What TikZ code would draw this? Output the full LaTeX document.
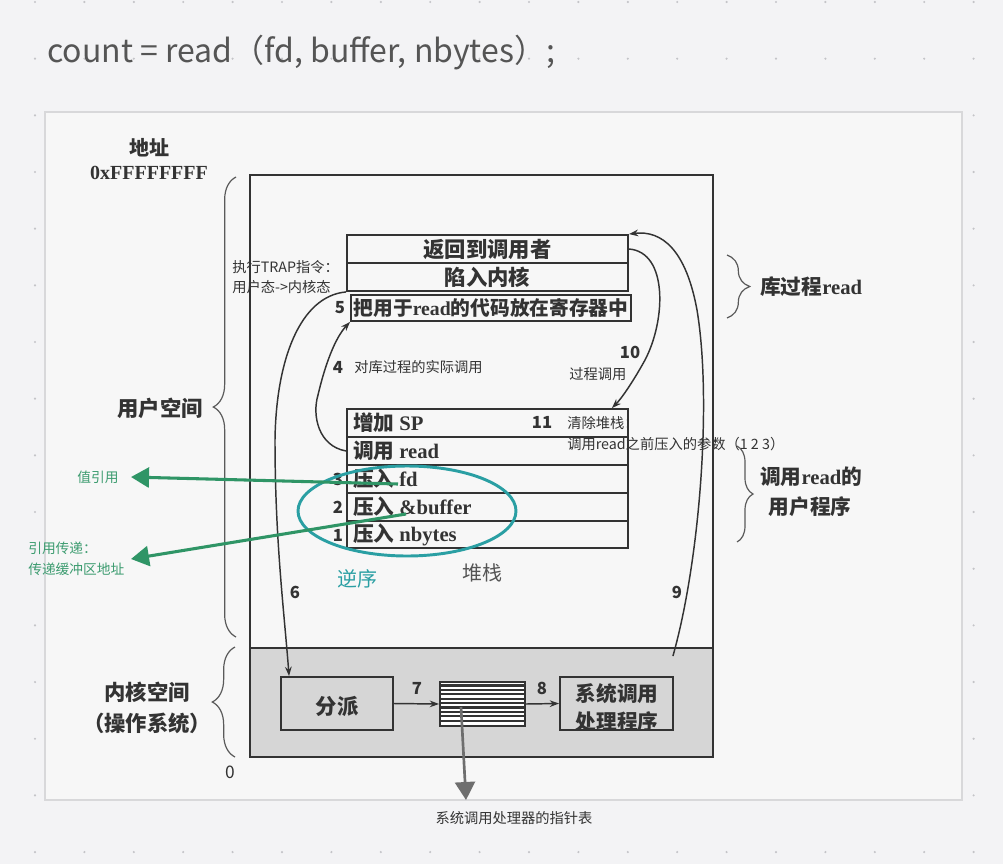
\documentclass[tikz,border=0pt]{standalone}
\usepackage{fontspec}
\setmainfont{Liberation Serif}
\newfontfamily\cjk{Noto Sans CJK SC}
\usetikzlibrary{arrows.meta,decorations.pathreplacing,calc,shapes.geometric}
\definecolor{pagebg}{HTML}{F3F3F5}
\definecolor{dotc}{HTML}{C4C4C8}
\definecolor{scanbg}{HTML}{F7F7F7}
\definecolor{scanborder}{HTML}{D8D8DA}
\definecolor{ink}{HTML}{333333}
\definecolor{braceink}{HTML}{5A5A5A}
\definecolor{anngray}{HTML}{333333}
\definecolor{titlegray}{HTML}{555555}
\definecolor{kgray}{HTML}{D6D6D6}
\definecolor{grn}{HTML}{2F9566}
\definecolor{grntext}{HTML}{3D9C70}
\definecolor{tealc}{HTML}{2A9FA3}
\definecolor{ptrgray}{HTML}{6E6E6E}
\tikzset{
  titletext/.style={font=\cjk\fontsize{24}{28}\selectfont, text=titlegray, inner sep=0pt},
  scantext/.style={font=\cjk\bfseries\fontsize{16}{19}\selectfont, text=ink, inner sep=0pt},
  stacktext/.style={font=\cjk\bfseries\fontsize{15.5}{18}\selectfont, text=ink, inner sep=0pt, anchor=west},
  anntext/.style={font=\cjk\fontsize{10.7}{13}\selectfont, text=anngray, inner sep=0pt},
  greentext/.style={font=\cjk\fontsize{10.3}{13}\selectfont, text=grntext, inner sep=0pt},
  numtext/.style={font=\cjk\bfseries\fontsize{12.5}{14}\selectfont, text=ink, inner sep=0pt},
  boxln/.style={draw=ink, line width=1.4pt, inner sep=0pt},
  rowbox/.style={boxln, fill=scanbg, minimum width=281*0.75pt, minimum height=28*0.75pt},
  flow/.style={draw=ink, line width=1.1pt, -{Stealth[length=7pt,width=5pt]}},
  greenarrow/.style={draw=grn, line width=2.3pt, -{Triangle[length=13.5pt,width=15pt]}},
  ptrarrow/.style={draw=ptrgray, line width=2pt, -{Triangle[length=13.5pt,width=15pt]}},
  bracestyle/.style={draw=braceink, line width=0.9pt, decorate},
}
\begin{document}
\begin{tikzpicture}[x=0.75pt,y=-0.75pt]
\useasboundingbox (0,0) rectangle (1003,864);
\fill[pagebg] (0,0) rectangle (1003,864);
\foreach \i in {0,...,19}{\foreach \j in {0,...,15}{\fill[dotc] (35+\i*49.4, 2+\j*56.67) circle (0.9pt);}}
\node[titletext, anchor=base west] (title) at (47,62) {count = read（fd, buffer, nbytes）;};
% scanned picture area
\draw[scanborder, line width=0.8pt, fill=scanbg] (45,112) rectangle (962,800);
% outer memory box and kernel region
\node[boxln, minimum width=463*0.75pt, minimum height=582*0.75pt] (outer) at (481.5,466) {};
\node[boxln, fill=kgray, minimum width=463*0.75pt, minimum height=109*0.75pt] (kernel) at (481.5,702.5) {};
% left labels
\node[scantext, font=\cjk\bfseries\fontsize{15}{18}\selectfont] (addr) at (149,148) {地址};
\node[scantext, font=\rmfamily\bfseries\fontsize{15}{18}\selectfont] (addrhi) at (149,173) {0xFFFFFFFF};
\node[scantext] (user) at (160,408) {用户空间};
\node[scantext] (kspace) at (147,692) {内核空间};
\node[scantext] (os) at (147,723) {（操作系统）};
\node[numtext, font=\cjk\fontsize{13}{15}\selectfont] (zero) at (230,772) {0};
\draw[bracestyle, decoration={brace, amplitude=17pt}] (236,637) -- (236,177);
\draw[bracestyle, decoration={brace, amplitude=17pt}] (235,757) -- (235,647);
% library procedure rows
\node[rowbox] (r1) at (487.5,249) {};
\node[scantext] (r1t) at (487.5,249) {返回到调用者};
\node[rowbox] (r2) at (487.5,277) {};
\node[scantext] (r2t) at (487.5,277) {陷入内核};
\node[rowbox, minimum width=280*0.75pt, minimum height=26*0.75pt] (r3) at (491,308) {};
\node[scantext, font=\cjk\bfseries\fontsize{14.8}{18}\selectfont] (r3t) at (491,308) {把用于{\rmfamily read}的代码放在寄存器中};
\node[numtext] (n5) at (340,308) {5};
% right braces
\draw[bracestyle, decoration={brace, amplitude=17pt}] (727,255) -- (727,318);
\node[scantext, font=\cjk\bfseries\fontsize{15.5}{18}\selectfont, anchor=west] (lib) at (760,287) {库过程{\rmfamily read}};
\draw[bracestyle, decoration={brace, amplitude=12pt}] (737,446) -- (737,542);
\node[scantext, font=\cjk\bfseries\fontsize{15.5}{18}\selectfont, anchor=west] (callp1) at (760,477) {调用{\rmfamily read}的};
\node[scantext, font=\cjk\bfseries\fontsize{15.5}{18}\selectfont] (callp2) at (810,507) {用户程序};
% user program stack
\node[rowbox] (s1) at (487.5,423) {};
\node[rowbox] (s2) at (487.5,451) {};
\node[rowbox] (s3) at (487.5,479) {};
\node[rowbox] (s4) at (487.5,507) {};
\node[rowbox, minimum height=27*0.75pt] (s5) at (487.5,534.5) {};
\node[stacktext] (s1t) at (353,423) {增加 {\rmfamily SP}};
\node[stacktext] (s2t) at (353,451) {调用 {\rmfamily read}};
\node[stacktext] (s3t) at (353,479) {压入 {\rmfamily fd}};
\node[stacktext] (s4t) at (353,507) {压入 {\rmfamily \&buffer}};
\node[stacktext] (s5t) at (353,535) {压入 {\rmfamily nbytes}};
\node[numtext] (n3) at (338,479) {3};
\node[numtext] (n2) at (338,507) {2};
\node[numtext] (n1) at (338,535) {1};
\node[numtext] (n11) at (542,422) {11};
\node[anntext, font=\cjk\fontsize{15}{18}\selectfont, text=titlegray] (stack) at (482,573) {堆栈};
\node[anntext, font=\cjk\fontsize{15}{18}\selectfont, text=tealc] (rev) at (357,579) {逆序};
% annotations
\node[anntext, anchor=west] (trap1) at (232,267) {执行TRAP指令：};
\node[anntext, anchor=west] (trap2) at (232,287) {用户态->内核态};
\node[numtext] (n4) at (338,367) {4};
\node[anntext, anchor=west] (call4) at (354,367) {对库过程的实际调用};
\node[numtext] (n10) at (630,352) {10};
\node[anntext, anchor=west] (proc) at (569,374) {过程调用};
\node[anntext, anchor=west] (clr1) at (567,423) {清除堆栈：};
\node[anntext, anchor=west] (clr2) at (567,444) {调用read之前压入的参数（1 2 3）};
\node[numtext] (n6) at (295,592) {6};
\node[numtext] (n9) at (677,592) {9};
% kernel boxes
\node[boxln, fill=kgray, minimum width=112*0.75pt, minimum height=53*0.75pt] (pai) at (337,703.5) {};
\node[scantext] (pait) at (337,706) {分派};
\node[boxln, fill=white, minimum width=85*0.75pt, minimum height=44*0.75pt] (table) at (482.5,704) {};
\foreach \k in {1,...,9}{\draw[ink, line width=1.7pt] ($(table.north west)+(0,\k*4.4)$) -- ($(table.north east)+(0,\k*4.4)$);}
\node[boxln, fill=kgray, minimum width=113*0.75pt, minimum height=53*0.75pt] (handler) at (616.5,703.5) {};
\node[scantext, align=center, font=\cjk\bfseries\fontsize{15.5}{21}\selectfont] (handlert) at (617,708) {系统调用\\处理程序};
\node[numtext] (n7) at (417,688) {7};
\node[numtext] (n8) at (542,688) {8};
\draw[flow] (pai.east) -- (table.west);
\draw[flow] (table.east) -- (handler.west);
% flow curves
\draw[flow] (s2.west) .. controls (318,446) and (312,415) .. (318,395) .. controls (325,365) and (335,338) .. (r3.south west);
\coordinate (trapend) at ($(pai.north west)+(9,0)$);
\draw[flow] (r2.south west) .. controls (300,296) and (276,360) .. (275,440) .. controls (275,540) and (284,610) .. (trapend);
\coordinate (ret9) at ($(handler.north east)+(-1,-20)$);
\draw[flow] (ret9) .. controls (700,560) and (712,400) .. (697,310) .. controls (686,250) and (662,230) .. (r1.north east);
\coordinate (clr10) at ($(s1.north east)+(-17,0)$);
\draw[flow] (r1.east) .. controls (668,252) and (666,320) .. (645,360) .. controls (634,380) and (622,398) .. (clr10);
% green reference arrows and teal ellipse
\node[draw=tealc, line width=2.2pt, ellipse, minimum width=218*0.75pt, minimum height=90*0.75pt] (ell) at (407,511) {};
\coordinate (g1s) at (398,484);
\coordinate (g1e) at (131,477);
\coordinate (g2s) at (406,514);
\coordinate (g2e) at (131,559);
\draw[greenarrow] (g1s) -- (g1e);
\draw[greenarrow] (g2s) -- (g2e);
\node[greentext] (valref) at (98,477) {值引用};
\node[greentext, anchor=west] (refp1) at (28,548) {引用传递：};
\node[greentext, anchor=west] (refp2) at (28,569) {传递缓冲区地址};
% pointer table arrow
\coordinate (ptrs) at (461,707);
\coordinate (ptre) at (466,800);
\draw[ptrarrow] (ptrs) -- (ptre);
\node[anntext] (ptrlabel) at (514,818) {系统调用处理器的指针表};
\end{tikzpicture}
\end{document}
